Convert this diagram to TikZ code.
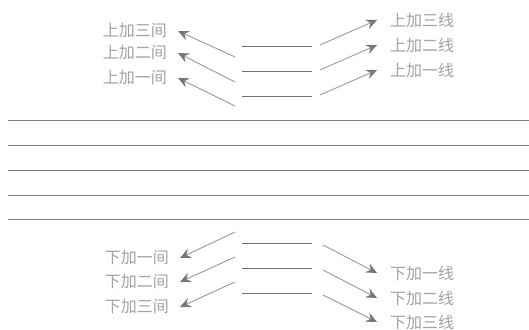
\documentclass[tikz,border=0pt]{standalone}
\usepackage{fontspec}
\newfontfamily\cjk{Noto Sans CJK SC}
\usetikzlibrary{arrows.meta}
\definecolor{inkgray}{HTML}{9A9A9A}
\definecolor{tipgray}{HTML}{777777}
\definecolor{textgray}{HTML}{A2A2A2}
\definecolor{linegray}{HTML}{707070}
\tikzset{
  label left/.style={anchor=east, inner xsep=11pt, inner ysep=0pt, text=textgray, font=\cjk\fontsize{16}{18}\selectfont},
  label right/.style={anchor=west, inner xsep=13pt, inner ysep=0pt, text=textgray, font=\cjk\fontsize{16}{18}\selectfont},
  pointer/.style={draw=inkgray, line width=0.9pt, -{Stealth[length=11pt, width=10pt, inset=4pt, color=tipgray]}},
  ledger/.style={draw=linegray, line width=1pt},
  staff/.style={draw=linegray!90, line width=0.8pt}
}
\begin{document}
\begin{tikzpicture}[x=1pt, y=-1pt]
\useasboundingbox (0,0) rectangle (529,329);

\draw[staff] (8,120) -- (529,120); %staff lines
\draw[staff] (8,145) -- (529,145);
\draw[staff] (8,170) -- (529,170);
\draw[staff] (8,195) -- (529,195);
\draw[staff] (8,219) -- (529,219);

\draw[ledger] (242,47) -- (312,47); %upper ledger lines
\draw[ledger] (242,71) -- (312,71);
\draw[ledger] (242,96) -- (312,96);
\draw[ledger] (242,243) -- (312,243); %lower ledger lines
\draw[ledger] (242,268) -- (312,268);
\draw[ledger] (242,293) -- (312,293);

\node[label left] (upspace3) at (178,31) {上加三间}; %upper spaces
\node[label left] (upspace2) at (178,53) {上加二间};
\node[label left] (upspace1) at (178,78) {上加一间};
\node[label right] (upline3) at (377,20) {上加三线}; %upper lines
\node[label right] (upline2) at (377,45) {上加二线};
\node[label right] (upline1) at (377,70) {上加一线};

\node[label left] (downspace1) at (180,258) {下加一间}; %lower spaces
\node[label left] (downspace2) at (180,282) {下加二间};
\node[label left] (downspace3) at (180,307) {下加三间};
\node[label right] (downline1) at (377,273) {下加一线}; %lower lines
\node[label right] (downline2) at (377,298) {下加二线};
\node[label right] (downline3) at (377,322) {下加三线};

\coordinate (ul3) at (235,57); %tails upper left
\coordinate (ul2) at (235,82);
\coordinate (ul1) at (235,106);
\coordinate (ur3) at (320,45); %tails upper right
\coordinate (ur2) at (320,70);
\coordinate (ur1) at (320,95);
\coordinate (dl1) at (235,232); %tails lower left
\coordinate (dl2) at (235,257);
\coordinate (dl3) at (235,282);
\coordinate (dr1) at (323,245); %tails lower right
\coordinate (dr2) at (323,270);
\coordinate (dr3) at (323,295);

\draw[pointer] (ul3) -- (upspace3.east);
\draw[pointer] (ul2) -- (upspace2.east);
\draw[pointer] (ul1) -- (upspace1.east);
\draw[pointer] (ur3) -- (upline3.west);
\draw[pointer] (ur2) -- (upline2.west);
\draw[pointer] (ur1) -- (upline1.west);
\draw[pointer] (dl1) -- (downspace1.east);
\draw[pointer] (dl2) -- (downspace2.east);
\draw[pointer] (dl3) -- (downspace3.east);
\draw[pointer] (dr1) -- (downline1.west);
\draw[pointer] (dr2) -- (downline2.west);
\draw[pointer] (dr3) -- (downline3.west);

\end{tikzpicture}
\end{document}
